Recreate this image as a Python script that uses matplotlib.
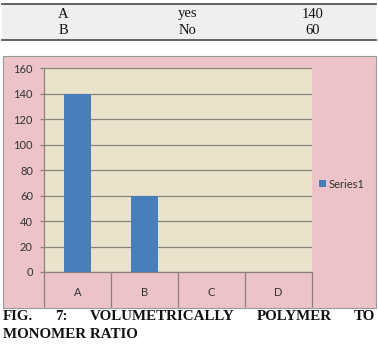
import matplotlib
matplotlib.use("Agg")
import matplotlib.pyplot as plt
from matplotlib.patches import Rectangle
from matplotlib.lines import Line2D

# ---- data ----
table_labels = ["A", "B"]
table_answers = ["yes", "No"]
table_values = [140, 60]

categories = ["A", "B", "C", "D"]
series_name = "Series1"
values = [140, 60, 0, 0]
yticks = [0, 20, 40, 60, 80, 100, 120, 140, 160]

caption_line1 = ["FIG.", "7:", "VOLUMETRICALLY", "POLYMER", "TO"]
caption_line2 = "MONOMER RATIO"

W, H = 378, 348
plt.rcParams['hatch.color'] = '#d6ceb2'
plt.rcParams['hatch.linewidth'] = 0.4
fig = plt.figure(figsize=(W / 100, H / 100), dpi=100)
fig.patch.set_facecolor('white')

def fx(x):
    return x / W

def fy(y):
    return 1 - y / H

# ---- table on top ----
fig.patches.append(Rectangle((fx(2), fy(39)), fx(374), (35) / H, transform=fig.transFigure,
                             facecolor='#efefef', edgecolor='none', zorder=-2))
fig.lines.append(Line2D([fx(2), fx(376)], [fy(4), fy(4)], transform=fig.transFigure, color='#555555', lw=1.3))
fig.lines.append(Line2D([fx(2), fx(376)], [fy(39.5), fy(39.5)], transform=fig.transFigure, color='#555555', lw=1.3))
rows_y = [14, 31]
for i in range(len(table_labels)):
    for xc, txt in zip([63, 188, 313], [table_labels[i], table_answers[i], str(table_values[i])]):
        fig.text(fx(xc), fy(rows_y[i]), txt, ha='center', va='center',
                 family='Liberation Serif', fontsize=10.5, color='#111111')

# ---- chart box ----
fig.patches.append(Rectangle((fx(2.5), fy(307.5)), fx(373.5), 252 / H, transform=fig.transFigure,
                             facecolor='#ebc3c9', edgecolor='#9a9a9a', lw=0.8, zorder=-2))

left, right, top, bottom = 44, 312, 68, 272
ax = fig.add_axes([fx(left), fy(bottom), fx(right - left), (bottom - top) / H])
ax.set_zorder(1)
ax.patch.set_facecolor('#e9e3cb')
ax.patch.set_hatch('+++++')
ax.patch.set_edgecolor('none')

x = list(range(len(categories)))
ax.bar(x, values, width=0.4, color='#4a7ebb', zorder=3, label=series_name)
ax.set_xlim(-0.5, len(categories) - 0.5)
ax.set_ylim(0, 160)
ax.set_yticks(yticks)
ax.yaxis.grid(True, color='#8a8377', lw=0.9, zorder=1)
ax.set_axisbelow(True)

for s in ['top', 'right']:
    ax.spines[s].set_visible(False)
for s in ['left', 'bottom']:
    ax.spines[s].set_color('#8a8377')
    ax.spines[s].set_linewidth(0.9)

ax.tick_params(axis='y', length=3, width=0.9, color='#8a8377', pad=5,
               labelsize=8, labelcolor='#333333')
ax.set_xticks(x)
ax.set_xticklabels(categories)
ax.tick_params(axis='x', which='major', length=0, pad=11, labelsize=8, labelcolor='#333333')
ax.set_xticks([i - 0.5 for i in range(len(categories) + 1)], minor=True)
ax.tick_params(axis='x', which='minor', length=25, width=0.9, color='#8a8377', direction='out')
for lab in ax.get_xticklabels() + ax.get_yticklabels():
    lab.set_family('Lato')

leg = fig.legend(*ax.get_legend_handles_labels(), loc='center left',
                 bbox_to_anchor=(fx(319), fy(184)), frameon=False,
                 prop={'family': 'Lato', 'size': 8}, handlelength=0.6, handleheight=0.6,
                 handletextpad=0.3, borderaxespad=0, borderpad=0)
for t in leg.get_texts():
    t.set_color('#333333')

# ---- caption (justified) ----
fig.canvas.draw()
renderer = fig.canvas.get_renderer()
words = [fig.text(0, fy(317), w, ha='left', va='center', family='Liberation Serif',
                  fontweight='bold', fontsize=10.8, color='#111111') for w in caption_line1]
widths = [w.get_window_extent(renderer).width for w in words]
x0, x1 = 3, 375
gap = (x1 - x0 - sum(widths)) / (len(words) - 1)
cur = x0
for w, wd in zip(words, widths):
    w.set_x(fx(cur))
    cur += wd + gap
fig.text(fx(3), fy(334), caption_line2, ha='left', va='center', family='Liberation Serif',
         fontweight='bold', fontsize=10.8, color='#111111')

fig.savefig('out.png', dpi=100, facecolor='white')
